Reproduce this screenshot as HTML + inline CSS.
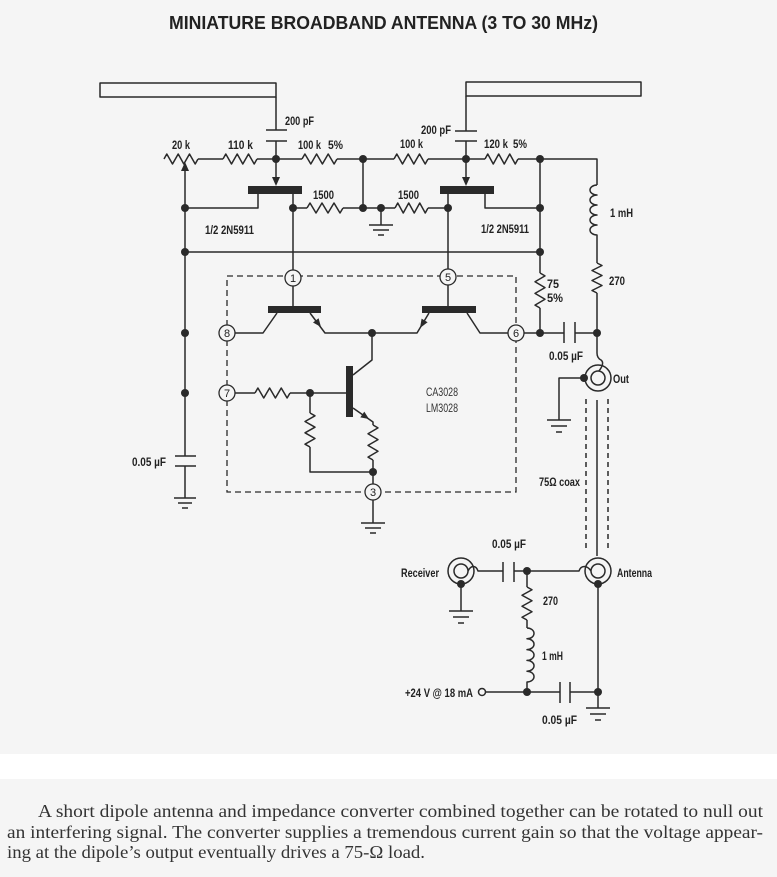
<!DOCTYPE html>
<html><head><meta charset="utf-8">
<style>
html,body{margin:0;padding:0;background:#f5f5f5;}
body{width:777px;height:877px;overflow:hidden;}
svg{display:block;}
.w{fill:none;stroke:#2a2a2a;stroke-width:1.5;stroke-linejoin:round;}
.d{fill:#2a2a2a;}
.l{font-family:"Liberation Sans",sans-serif;font-weight:bold;font-size:11.5px;fill:#222;}
.p{font-family:"Liberation Sans",sans-serif;font-size:11px;fill:#222;}
.c{font-family:"Liberation Serif",serif;font-size:18px;fill:#333;}
</style></head>
<body>
<svg width="777" height="877" viewBox="0 0 777 877" xmlns="http://www.w3.org/2000/svg">
<rect x="0" y="0" width="777" height="877" fill="#f5f5f5"/>
<rect x="0" y="754" width="777" height="25" fill="#ffffff"/>

<text x="169" y="29" font-family="Liberation Sans, sans-serif" font-weight="bold" font-size="18" fill="#222" textLength="429" lengthAdjust="spacingAndGlyphs">MINIATURE BROADBAND ANTENNA (3 TO 30 MHz)</text>

<!-- antennas -->
<rect class="w" x="100" y="83" width="176" height="14"/>
<rect class="w" x="466" y="82" width="175" height="14"/>
<path class="w" d="M276,97 V130 M266,130 H287 M266,141 H287 M276,141 V159"/>
<path class="w" d="M466,96 V131 M455,131 H477 M455,141 H477 M466,141 V159"/>

<!-- top rail -->
<path class="w" d="M198,159 H223 M257,159 H302 M337,159 H394 M428,159 H485 M518,159 H597 V185"/>
<polyline class="w" points="164,159 166.8,154 172.5,164 178.2,154 183.8,164 189.5,154 195.2,164 198,159"/>
<polyline class="w" points="223,159 225.8,154 231.5,164 237.2,154 242.8,164 248.5,154 254.2,164 257,159"/>
<polyline class="w" points="302,159 304.9,154 310.8,164 316.6,154 322.4,164 328.2,154 334.1,164 337,159"/>
<polyline class="w" points="394,159 396.8,154 402.5,164 408.2,154 413.8,164 419.5,154 425.2,164 428,159"/>
<polyline class="w" points="485,159 487.75,154 493.25,164 498.75,154 504.25,164 509.75,154 515.25,164 518,159"/>

<!-- pot wiper and left rail -->
<path class="w" d="M185,170 V456 M175,456 H196 M175,466 H196 M185,466 V498"/>
<polygon class="d" points="185,162 181,171 189,171"/>

<!-- FET left -->
<rect class="d" x="248" y="186" width="54" height="8"/>
<path class="w" d="M276,159 V180"/>
<polygon class="d" points="276,186 272,177 280,177"/>
<path class="w" d="M258,194 V208 H185 M293,194 V270 M293,208 H307 M343,208 H395 M428,208 H448 M363,159 V208 M381,208 V225"/>
<polyline class="w" points="307,208 310,203 316,213 322,203 328,213 334,203 340,213 343,208"/>
<polyline class="w" points="395,208 397.75,203 403.25,213 408.75,203 414.25,213 419.75,203 425.25,213 428,208"/>

<!-- FET right -->
<rect class="d" x="440" y="186" width="54" height="8"/>
<path class="w" d="M466,159 V180"/>
<polygon class="d" points="466,186 462,177 470,177"/>
<path class="w" d="M448,194 V269 M485,194 V208 H540 M540,159 V273 M540,308 V333"/>
<polyline class="w" points="540,273 545,275.9 535,281.75 545,287.6 535,293.4 545,299.25 535,305.1 540,308"/>

<!-- rail y=252 -->
<path class="w" d="M185,252 H540"/>

<!-- inductor top right & 270 -->
<path class="w" d="M597,185 a7,5 0 1 0 0,10 a7,5 0 1 0 0,10 a7,5 0 1 0 0,10 a7,5 0 1 0 0,10 a7,5 0 1 0 0,10 V263"/>
<polyline class="w" points="597,263 602,265.5 592,270.5 602,275.5 592,280.5 602,285.5 592,290.5 597,293"/>
<path class="w" d="M597,293 V353 Q597,358 601,360 Q605,363 599,371"/>

<!-- coupling cap mid right -->
<path class="w" d="M524,333 H564 M564,322 V343 M575,322 V343 M575,333 H597"/>

<!-- IC dashed box -->
<rect x="227" y="276" width="289" height="216" fill="none" stroke="#2a2a2a" stroke-width="1.3" stroke-dasharray="6,4"/>

<!-- Q1 -->
<rect class="d" x="268" y="306" width="53" height="7"/>
<path class="w" d="M293,286 V306 M235,333 H263 L277,313 M310,313 L325,333 H417 L429,313"/>
<polygon class="d" points="321,327 318.6,318.3 313,322.5"/>
<!-- Q2 -->
<rect class="d" x="422" y="306" width="54" height="7"/>
<polygon class="d" points="420,328 427.6,322.2 421.6,318.6"/>
<path class="w" d="M448,285 V306 M467,313 L480,333 H508"/>

<!-- Q3 -->
<path class="w" d="M372,333 V360 L353,375"/>
<rect class="d" x="346" y="366" width="7" height="51"/>
<path class="w" d="M235,393 H255 M290,393 H346 M310,393 V413 M310,447 V472 H373 M353,408 L373,422 V425 M373,460 V484 M373,500 V523"/>
<polygon class="d" points="369,419 364.3,411.6 360.3,417.4"/>
<polyline class="w" points="255,393 257.9,388 263.75,398 269.6,388 275.4,398 281.25,388 287.1,398 290,393"/>
<polyline class="w" points="310,413 315,415.8 305,421.5 315,427.2 305,432.8 315,438.5 305,444.2 310,447"/>
<polyline class="w" points="373,425 378,427.9 368,433.75 378,439.6 368,445.4 378,451.25 368,457.1 373,460"/>

<!-- pin circles -->
<g fill="#f5f5f5" stroke="#2a2a2a" stroke-width="1.3">
<circle cx="293" cy="278" r="8"/>
<circle cx="448" cy="277" r="8"/>
<circle cx="227" cy="333" r="8"/>
<circle cx="227" cy="393" r="8"/>
<circle cx="516" cy="333" r="8"/>
<circle cx="373" cy="492" r="8"/>
</g>
<g class="p" text-anchor="middle">
<text x="293" y="282">1</text>
<text x="448" y="281">5</text>
<text x="227" y="337">8</text>
<text x="227" y="397">7</text>
<text x="516" y="337">6</text>
<text x="373" y="496">3</text>
</g>

<!-- Out connector -->
<circle class="w" cx="598" cy="378" r="13"/>
<circle class="w" cx="598" cy="378" r="7"/>
<path class="w" d="M584,378 H559 V420"/>

<!-- coax -->
<path fill="none" stroke="#2a2a2a" stroke-width="1.5" stroke-dasharray="5,4" d="M586,399 V552 M608,399 V552"/>
<path class="w" d="M597,400 V556"/>

<!-- bottom section -->
<circle class="w" cx="598" cy="571" r="13"/>
<circle class="w" cx="598" cy="571" r="7"/>
<circle class="w" cx="461" cy="571" r="13"/>
<circle class="w" cx="461" cy="571" r="7"/>
<path class="w" d="M468,571 C471,565 476,565 478,571 H503 M503,562 V582 M514,562 V582 M514,571 H579 C581,565 587,565 591,571"/>
<path class="w" d="M461,584 V611 M598,584 V708"/>
<path class="w" d="M527,571 V587 M527,620 V628"/>
<polyline class="w" points="527,587 532,589.75 522,595.25 532,600.75 522,606.25 532,611.75 522,617.25 527,620"/>
<path class="w" d="M527,628 a7,5.4 0 1 1 0,10.8 a7,5.4 0 1 1 0,10.8 a7,5.4 0 1 1 0,10.8 a7,5.4 0 1 1 0,10.8 a7,5.4 0 1 1 0,10.8 V692"/>
<circle class="w" cx="482" cy="692" r="3.5"/>
<path class="w" d="M485.5,692 H560 M560,682 V703 M570,682 V703 M570,692 H598"/>

<!-- grounds -->
<g class="w">
<path d="M174,498 H196 M178,503 H192 M182,508 H188"/>
<path d="M369,225 H393 M373,230 H389 M378,235 H384"/>
<path d="M361,523 H385 M365,528 H381 M370,533 H376"/>
<path d="M547,420 H571 M551,426 H567 M556,432 H562"/>
<path d="M449,611 H473 M453,617 H469 M458,623 H464"/>
<path d="M586,708 H610 M590,714 H606 M595,720 H601"/>
</g>

<!-- nodes -->
<g class="d">
<circle cx="276" cy="159" r="4"/>
<circle cx="363" cy="159" r="4"/>
<circle cx="466" cy="159" r="4"/>
<circle cx="540" cy="159" r="4"/>
<circle cx="185" cy="208" r="4"/>
<circle cx="293" cy="208" r="4"/>
<circle cx="363" cy="208" r="4"/>
<circle cx="381" cy="208" r="4"/>
<circle cx="448" cy="208" r="4"/>
<circle cx="540" cy="208" r="4"/>
<circle cx="185" cy="252" r="4"/>
<circle cx="540" cy="252" r="4"/>
<circle cx="185" cy="333" r="4"/>
<circle cx="372" cy="333" r="4"/>
<circle cx="540" cy="333" r="4"/>
<circle cx="597" cy="333" r="4"/>
<circle cx="185" cy="393" r="4"/>
<circle cx="310" cy="393" r="4"/>
<circle cx="373" cy="472" r="4"/>
<circle cx="584" cy="378" r="4"/>
<circle cx="527" cy="571" r="4"/>
<circle cx="461" cy="584" r="4"/>
<circle cx="598" cy="584" r="4"/>
<circle cx="527" cy="692" r="4"/>
<circle cx="598" cy="692" r="4"/>
</g>

<!-- labels -->
<g class="l">
<text x="285" y="125" textLength="29" lengthAdjust="spacingAndGlyphs">200 pF</text>
<text x="172" y="149" textLength="18" lengthAdjust="spacingAndGlyphs">20 k</text>
<text x="228" y="149" textLength="25" lengthAdjust="spacingAndGlyphs">110 k</text>
<text x="298" y="149" textLength="23" lengthAdjust="spacingAndGlyphs">100 k</text>
<text x="328" y="149" textLength="15" lengthAdjust="spacingAndGlyphs">5%</text>
<text x="313" y="199" textLength="21" lengthAdjust="spacingAndGlyphs">1500</text>
<text x="398" y="199" textLength="21" lengthAdjust="spacingAndGlyphs">1500</text>
<text x="205" y="234" textLength="49" lengthAdjust="spacingAndGlyphs">1/2 2N5911</text>
<text x="481" y="233" textLength="48" lengthAdjust="spacingAndGlyphs">1/2 2N5911</text>
<text x="421" y="134" textLength="30" lengthAdjust="spacingAndGlyphs">200 pF</text>
<text x="400" y="148" textLength="23" lengthAdjust="spacingAndGlyphs">100 k</text>
<text x="484" y="148" textLength="24" lengthAdjust="spacingAndGlyphs">120 k</text>
<text x="513" y="148" textLength="14" lengthAdjust="spacingAndGlyphs">5%</text>
<text x="610" y="217" textLength="23" lengthAdjust="spacingAndGlyphs">1 mH</text>
<text x="609" y="285" textLength="16" lengthAdjust="spacingAndGlyphs">270</text>
<text x="547" y="288" textLength="12" lengthAdjust="spacingAndGlyphs">75</text>
<text x="547" y="302" textLength="16" lengthAdjust="spacingAndGlyphs">5%</text>
<text x="549" y="360" textLength="34" lengthAdjust="spacingAndGlyphs">0.05 µF</text>
<text x="613" y="383" textLength="16" lengthAdjust="spacingAndGlyphs">Out</text>
<text x="539" y="486" textLength="41" lengthAdjust="spacingAndGlyphs">75Ω coax</text>
<text x="132" y="466" textLength="34" lengthAdjust="spacingAndGlyphs">0.05 µF</text>
<text x="492" y="548" textLength="34" lengthAdjust="spacingAndGlyphs">0.05 µF</text>
<text x="401" y="577" textLength="38" lengthAdjust="spacingAndGlyphs">Receiver</text>
<text x="617" y="577" textLength="35" lengthAdjust="spacingAndGlyphs">Antenna</text>
<text x="543" y="605" textLength="15" lengthAdjust="spacingAndGlyphs">270</text>
<text x="542" y="660" textLength="21" lengthAdjust="spacingAndGlyphs">1 mH</text>
<text x="405" y="697" textLength="68" lengthAdjust="spacingAndGlyphs">+24 V @ 18 mA</text>
<text x="542" y="724" textLength="35" lengthAdjust="spacingAndGlyphs">0.05 µF</text>
</g>
<g font-family="Liberation Sans, sans-serif" font-size="11.5" fill="#333">
<text x="426" y="396" textLength="32" lengthAdjust="spacingAndGlyphs">CA3028</text>
<text x="426" y="412" textLength="32" lengthAdjust="spacingAndGlyphs">LM3028</text>
</g>

<!-- caption -->
<text class="c" x="38" y="817" textLength="725" lengthAdjust="spacingAndGlyphs">A short dipole antenna and impedance converter combined together can be rotated to null out</text>
<text class="c" x="7" y="838" textLength="756" lengthAdjust="spacingAndGlyphs">an interfering signal. The converter supplies a tremendous current gain so that the voltage appear-</text>
<text class="c" x="7" y="858" textLength="418" lengthAdjust="spacingAndGlyphs">ing at the dipole’s output eventually drives a 75-Ω load.</text>
</svg>
</body></html>
